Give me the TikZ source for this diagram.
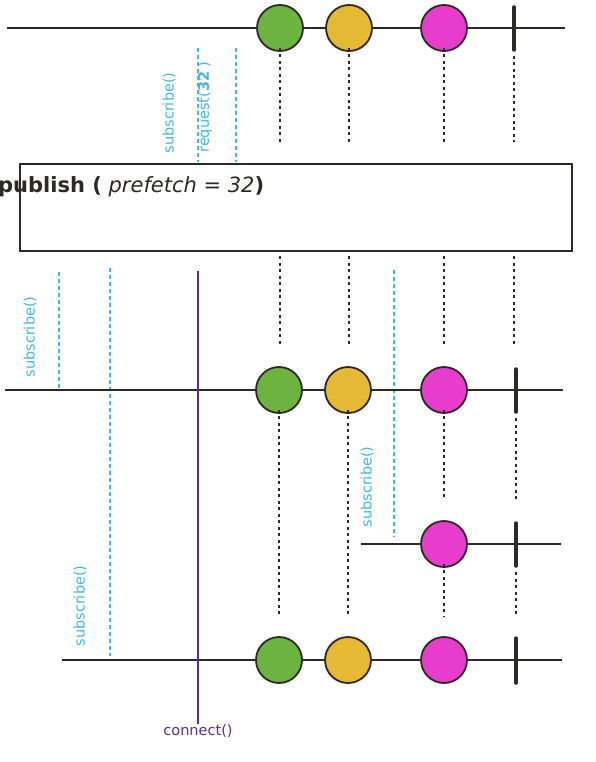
\documentclass[tikz,border=0pt]{standalone}
\usepackage{fontspec}
\setmainfont{DejaVu Sans}
\begin{document}
\begin{tikzpicture}[x=1pt,y=-1pt,
  ln/.style={draw=lncol,line width=2pt},
  ev/.style={circle,draw=lncol,line width=1.8pt,minimum size=46pt,inner sep=0pt},
  gr/.style={ev,fill=evgreen},
  ye/.style={ev,fill=evyellow},
  ma/.style={ev,fill=evmagenta},
  termbar/.style={draw=lncol,line width=3.5pt,line cap=round},
  dots/.style={draw=lncol,line width=2.3pt,dash pattern=on 3pt off 3.5pt},
  bdash/.style={draw=sbblue,line width=2pt,dash pattern=on 4pt off 3pt},
  blab/.style={text=sbblue,font=\fontsize{14.5}{16}\selectfont,rotate=90,inner sep=0pt},
]
\definecolor{lncol}{HTML}{2D2A26}
\definecolor{evgreen}{HTML}{6DB33F}
\definecolor{evyellow}{HTML}{E6B935}
\definecolor{evmagenta}{HTML}{E83CCC}
\definecolor{sbblue}{HTML}{40B8E0}
\definecolor{cnpurple}{HTML}{5C2D91}
\useasboundingbox (0,0) rectangle (596,762);

% ---------- top timeline ----------
\coordinate (t0) at (7,28);
\coordinate (t1) at (565,28);
\draw[ln] (t0) -- (t1);
\node[gr] (tg) at (280,28) {};
\node[ye] (ty) at (349,28) {};
\node[ma] (tm) at (444,28) {};
\coordinate (tba) at (514,7);
\coordinate (tbb) at (514,50);
\draw[termbar] (tba) -- (tbb);

\coordinate (tgd) at (280,142);
\coordinate (tyd) at (349,142);
\coordinate (tmd) at (444,142);
\coordinate (tbd) at (514,142);
\coordinate (tbs) at (514,56);
\draw[dots] ([yshift=4pt]tg.south) -- (tgd);
\draw[dots] ([yshift=4pt]ty.south) -- (tyd);
\draw[dots] ([yshift=4pt]tm.south) -- (tmd);
\draw[dots] (tbs) -- (tbd);

\coordinate (sa1) at (198,48);
\coordinate (sa2) at (198,162);
\coordinate (ra1) at (236,48);
\coordinate (ra2) at (236,162);
\draw[bdash] (sa1) -- (sa2);
\draw[bdash] (ra1) -- (ra2);
\node[blab] (lsub1) at (169,113) {subscribe()};
\node[blab] (lreq) at (205,107) {request(\textbf{32} )};

% ---------- publish box ----------
\node[draw=lncol,line width=1.5pt,minimum width=552pt,minimum height=87pt,inner sep=0pt] (box) at (296,207.5) {};
\node[anchor=base west,inner sep=0pt,text=lncol,font=\fontsize{21}{24}\selectfont] (title) at (-2,192)
  {\textbf{publish (} \textit{prefetch = 32}\textbf{)}};

\coordinate (bg1) at (280,256);
\coordinate (bg2) at (280,346);
\coordinate (by1) at (349,256);
\coordinate (by2) at (349,346);
\coordinate (bm1) at (444,256);
\coordinate (bm2) at (444,346);
\coordinate (bb1) at (514,256);
\coordinate (bb2) at (514,346);
\draw[dots] (bg1) -- (bg2);
\draw[dots] (by1) -- (by2);
\draw[dots] (bm1) -- (bm2);
\draw[dots] (bb1) -- (bb2);

% ---------- blue subscribe lines below the box ----------
\coordinate (s1a) at (59,272);
\coordinate (s1b) at (59,388);
\coordinate (s2a) at (110,268);
\coordinate (s2b) at (110,656);
\coordinate (s3a) at (394,270);
\coordinate (s3b) at (394,537);
\draw[bdash] (s1a) -- (s1b);
\draw[bdash] (s2a) -- (s2b);
\draw[bdash] (s3a) -- (s3b);
\node[blab] (lsub2) at (30,337) {subscribe()};
\node[blab] (lsub3) at (367,487) {subscribe()};
\node[blab] (lsub4) at (80,606) {subscribe()};

% ---------- middle timeline ----------
\coordinate (m0) at (5,390);
\coordinate (m1) at (563,390);
\draw[ln] (m0) -- (m1);

% ---------- second subscriber timeline ----------
\coordinate (n0) at (361,544);
\coordinate (n1) at (561,544);
\draw[ln] (n0) -- (n1);

% ---------- bottom timeline ----------
\coordinate (u0) at (62,660);
\coordinate (u1) at (562,660);
\draw[ln] (u0) -- (u1);

% ---------- connect ----------
\coordinate (c1) at (198,271);
\node[text=cnpurple,font=\fontsize{14.5}{16}\selectfont,inner sep=0pt] (lconn) at (198,731) {connect()};
\draw[draw=cnpurple,line width=2pt] (c1) -- (lconn.north);

\node[gr] (mg) at (279,390) {};
\node[ye] (my) at (348,390) {};
\node[ma] (mm) at (444,390) {};
\coordinate (mba) at (516,369);
\coordinate (mbb) at (516,412);
\draw[termbar] (mba) -- (mbb);

\coordinate (mgd) at (279,617);
\coordinate (myd) at (348,617);
\coordinate (mmd) at (444,500);
\coordinate (mbs) at (516,418);
\coordinate (mbd) at (516,500);
\draw[dots] ([yshift=4pt]mg.south) -- (mgd);
\draw[dots] ([yshift=4pt]my.south) -- (myd);
\draw[dots] ([yshift=4pt]mm.south) -- (mmd);
\draw[dots] (mbs) -- (mbd);

\node[ma] (nm) at (444,544) {};
\coordinate (nba) at (516,523);
\coordinate (nbb) at (516,566);
\draw[termbar] (nba) -- (nbb);
\coordinate (nmd) at (444,617);
\coordinate (nbs) at (516,572);
\coordinate (nbd) at (516,617);
\draw[dots] ([yshift=4pt]nm.south) -- (nmd);
\draw[dots] (nbs) -- (nbd);

\node[gr] (ug) at (279,660) {};
\node[ye] (uy) at (348,660) {};
\node[ma] (um) at (444,660) {};
\coordinate (uba) at (516,638);
\coordinate (ubb) at (516,683);
\draw[termbar] (uba) -- (ubb);
\end{tikzpicture}
\end{document}
